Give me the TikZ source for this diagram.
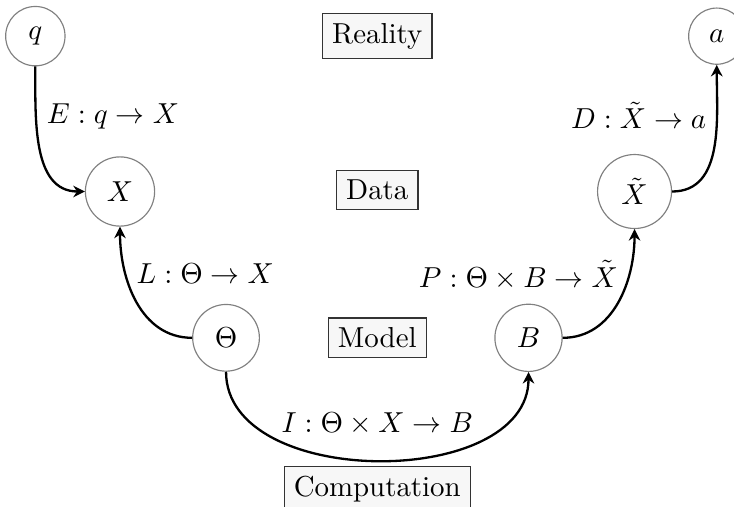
\documentclass[tikz,border=0pt]{standalone}
\usepackage{amsmath,amssymb}
\usepackage{tikz}
\usetikzlibrary{arrows.meta}

\begin{document}
\begin{tikzpicture}[
  var/.style={draw=gray, circle, inner sep=4.5pt},
  level/.style={draw=black!80, fill=black!3},
  map/.style={-{Stealth[length=4pt,width=4pt]}, thick}]
  \useasboundingbox (-4.59,0.44) rectangle (4.34,-5.72);
  \node[level] (Real) at (0,0) {Reality};
  \node[level] (Data) at (0,-1.87) {Data};
  \node[level] (Mod) at (0,-3.67) {Model};
  \node[level] (Comp) at (0,-5.51) {Computation};
  \node[var] (q) at (-4.16,0) {$q$};
  \node[var] (a) at (4.13,0) {$a$};
  \node[var] (X) at (-3.13,-1.89) {$X$};
  \node[var] (Xt) at (3.13,-1.89) {$\tilde{X}$};
  \node[var] (T) at (-1.84,-3.67) {$\Theta$};
  \node[var] (B) at (1.84,-3.67) {$B$};
  \draw[map] (q.south) to[out=-90,in=180]
    node[right,pos=0.3] {$E : q \to X$} (X.west);
  \draw[map] (T.west) to[out=180,in=-90]
    node[right,pos=0.7] {$L : \Theta \to X$} (X.south);
  \draw[map] (T.south) to[out=-90,in=-90]
    node[above=5pt] {$I : \Theta \times X \to B$} (B.south);
  \draw[map] (B.east) to[out=0,in=-90]
    node[left,pos=0.7] {$P : \Theta \times B \to \tilde{X}$} (Xt.south);
  \draw[map] (Xt.east) to[out=0,in=-90]
    node[left,pos=0.7] {$D : \tilde{X} \to a$} (a.south);
\end{tikzpicture}
\end{document}
